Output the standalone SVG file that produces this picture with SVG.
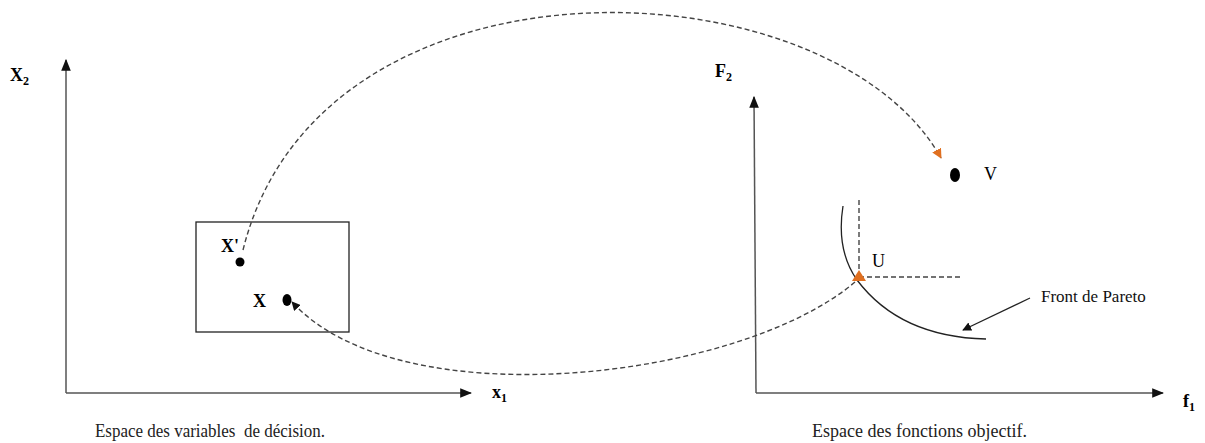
<svg xmlns="http://www.w3.org/2000/svg" width="1205" height="443" viewBox="0 0 1205 443">
<style>
.axis{stroke:#555;stroke-width:1.5;fill:none}
.dash{stroke:#444;stroke-width:1.4;fill:none;stroke-dasharray:5,3}
.thin{stroke:#222;stroke-width:1.3;fill:none}
.lbl{font-family:"Liberation Serif",serif;font-size:18px;fill:#000}
.b{font-weight:bold}
.sub{font-size:12px}
.cap{font-family:"Liberation Serif",serif;font-size:18px;fill:#222;white-space:pre}
.small{font-family:"Liberation Serif",serif;font-size:17px;fill:#111}
</style>
<defs>
<marker id="ah" viewBox="0 0 10 10" refX="9" refY="5" markerWidth="9" markerHeight="9" markerUnits="userSpaceOnUse" orient="auto"><path d="M0,0 L10,5 L0,10 z" fill="#111"/></marker>
<marker id="ax" viewBox="0 0 10 10" refX="9" refY="5" markerWidth="12" markerHeight="12" markerUnits="userSpaceOnUse" orient="auto"><path d="M0,1 L10,5 L0,9 z" fill="#111"/></marker>
<marker id="ao" viewBox="0 0 10 10" refX="9" refY="5" markerWidth="10" markerHeight="10" markerUnits="userSpaceOnUse" orient="auto"><path d="M0,0 L10,5 L0,10 z" fill="#e07020"/></marker>
</defs>
<g id="left-axes">
<line class="axis" x1="66" y1="393" x2="66" y2="60" marker-end="url(#ax)"/>
<line class="axis" x1="66" y1="393" x2="471" y2="393" marker-end="url(#ax)"/>
<text class="lbl b" x="10" y="81">X<tspan class="sub" dy="4">2</tspan></text>
<text class="lbl b" x="492" y="398">x<tspan class="sub" dy="4">1</tspan></text>
<text class="cap" x="95" y="437" xml:space="preserve" textLength="230" lengthAdjust="spacingAndGlyphs">Espace des variables  de décision.</text>
</g>
<g id="box">
<rect x="196" y="222" width="153" height="110" fill="none" stroke="#222" stroke-width="1.3"/>
</g>
<g id="node-Xp">
<circle cx="240" cy="262" r="4.5" fill="#000"/>
<text class="lbl b" x="221" y="252">X'</text>
</g>
<g id="node-X">
<ellipse cx="287" cy="300" rx="4.5" ry="6" fill="#000"/>
<text class="lbl b" x="253" y="307">X</text>
</g>
<g id="right-axes">
<line class="axis" x1="756" y1="393" x2="754" y2="97" marker-end="url(#ax)"/>
<line class="axis" x1="756" y1="393" x2="1163" y2="393" marker-end="url(#ax)"/>
<text class="lbl b" x="715" y="77">F<tspan class="sub" dy="4">2</tspan></text>
<text class="lbl b" x="1183" y="407">f<tspan class="sub" dy="4">1</tspan></text>
<text class="cap" x="812" y="437">Espace des fonctions objectif.</text>
</g>
<g id="node-V">
<ellipse cx="955" cy="175" rx="5" ry="7" fill="#000"/>
<text class="lbl" x="984" y="180">V</text>
</g>
<g id="pareto">
<path class="thin" d="M843,206 Q836,250 857,280 Q900,337 986,339"/>
<line class="dash" x1="859" y1="200" x2="859" y2="276"/>
<line class="dash" x1="859" y1="277" x2="962" y2="277"/>
<path d="M852,281 L859,270 L866,281 z" fill="#e07020"/>
<text class="lbl" x="872" y="267">U</text>
<text class="small" x="1041" y="302">Front de Pareto</text>
<line class="thin" x1="1030" y1="298" x2="963" y2="330" marker-end="url(#ah)"/>
</g>
<g id="connectors">
<path class="dash" d="M243,250 C320,-60 830,-40 941,158" marker-end="url(#ao)"/>
<path class="dash" d="M855,282 C740,380 400,420 292,302" marker-end="url(#ah)"/>
</g>
</svg>
